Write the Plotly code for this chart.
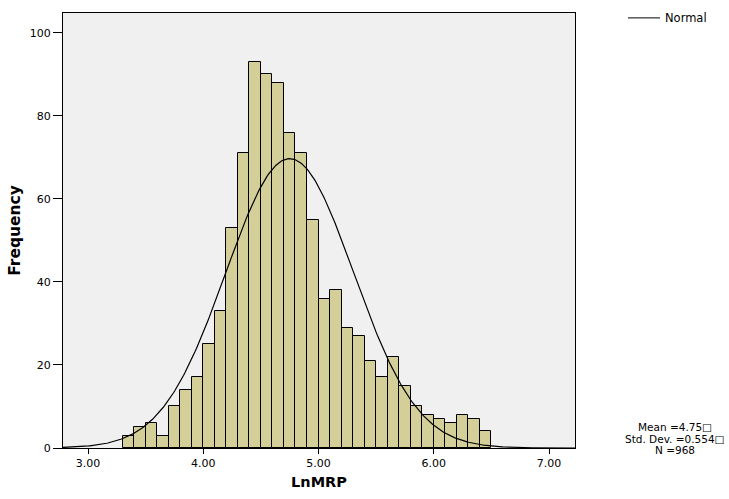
import numpy as np
import plotly.graph_objects as go

# Histogram data (bin width 0.1, starting at 3.3)
bin_start = 3.3
bin_width = 0.1
counts = [3, 5, 6, 3, 10, 14, 17, 25, 33, 53, 71, 93, 90, 88, 76, 71,
          55, 36, 38, 29, 27, 21, 17, 22, 15, 10, 8, 7, 6, 8, 7, 4]

# Summary statistics shown on the chart
mean_val = 4.75
sd_val = 0.554
n_val = 968

x_ticks = [3.0, 4.0, 5.0, 6.0, 7.0]
x_tick_labels = ["3.00", "4.00", "5.00", "6.00", "7.00"]
y_ticks = [0, 20, 40, 60, 80, 100]

centers = [bin_start + bin_width * (i + 0.5) for i in range(len(counts))]

x_range = [2.783, 7.225]
y_range = [0, 104.8]

W, H = 729, 499
ML, MR, MT, MB = 63, 154, 13, 41.5
PW = W - ML - MR
PH = H - MT - MB


def px(x):
    return (x - ML) / PW


def py(y):
    return (H - MB - y) / PH


fig = go.Figure()
fig.add_trace(go.Bar(
    x=centers, y=counts, width=bin_width,
    marker=dict(color="#D4CF99", line=dict(color="#000000", width=1)),
    showlegend=False, hoverinfo="x+y",
))

# Normal curve defined by mean, sd and N scaled to bin width
xs = np.linspace(x_range[0], x_range[1], 400)
ys = n_val * bin_width / (sd_val * np.sqrt(2 * np.pi)) * np.exp(-0.5 * ((xs - mean_val) / sd_val) ** 2)
fig.add_trace(go.Scatter(x=xs, y=ys, mode="lines",
                         line=dict(color="#000000", width=1.2),
                         name="Normal", showlegend=False))

font = "DejaVu Sans, Liberation Sans, Arial, sans-serif"

fig.update_layout(
    width=W, height=H,
    margin=dict(l=ML, r=MR, t=MT, b=MB, pad=0),
    paper_bgcolor="#FFFFFF",
    plot_bgcolor="#F0F0F0",
    bargap=0,
    font=dict(family=font, size=11, color="#000000"),
    xaxis=dict(
        range=x_range, tickvals=x_ticks, ticktext=x_tick_labels,
        ticks="outside", ticklen=5, tickcolor="#000000", tickwidth=1,
        showgrid=False, zeroline=False,
        showline=True, linecolor="#000000", linewidth=1, mirror=True,
        title=dict(text="<b>LnMRP</b>", font=dict(size=14.5, family=font), standoff=7),
        tickfont=dict(size=11, family=font),
    ),
    yaxis=dict(
        range=y_range, tickvals=y_ticks,
        ticks="outside", ticklen=9, tickcolor="#000000", tickwidth=1,
        showgrid=False, zeroline=False,
        showline=True, linecolor="#000000", linewidth=1, mirror=True,
        title=dict(text="<b>Frequency</b>", font=dict(size=15.5, family=font), standoff=5),
        tickfont=dict(size=11, family=font),
    ),
)

# Legend (Normal line)
fig.add_shape(type="line", xref="paper", yref="paper",
              x0=px(628), x1=px(660), y0=py(18), y1=py(18),
              line=dict(color="#000000", width=1))
fig.add_annotation(xref="paper", yref="paper", x=px(663), y=py(18),
                   text="Normal", showarrow=False, xanchor="left", yanchor="middle",
                   font=dict(size=11.5, family=font))

# Stats text
stats_lines = [f"Mean ={mean_val:.2f}\u25a1", f"Std. Dev. ={sd_val:.3f}\u25a1", f"N ={n_val}"]
for line, yy in zip(stats_lines, [436.5, 448, 459.5]):
    fig.add_annotation(xref="paper", yref="paper", x=px(675), y=py(yy),
                       text=line, showarrow=False, xanchor="center", yanchor="middle",
                       font=dict(size=10.5, family=font))

fig.write_html("out.html", config={"displayModeBar": False},
               post_script="document.body.style.margin='0px';")
